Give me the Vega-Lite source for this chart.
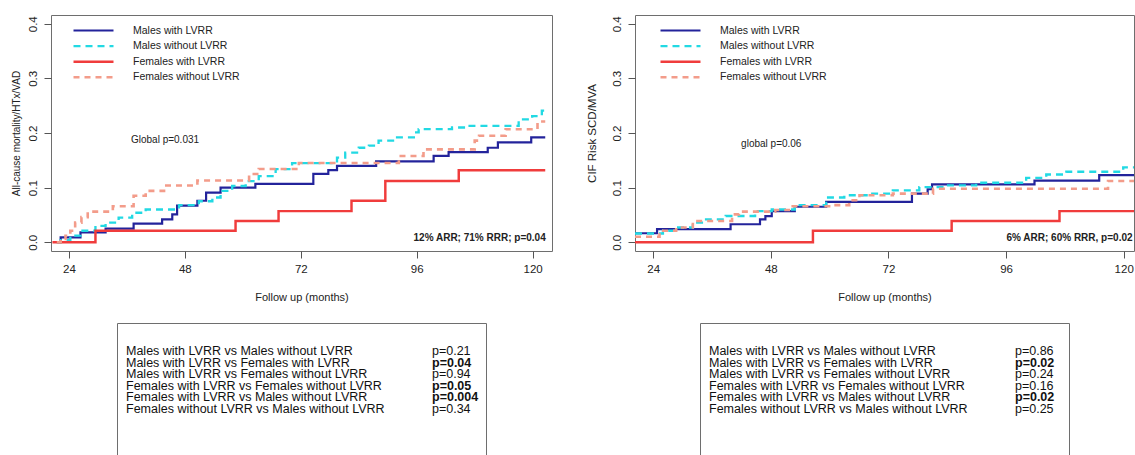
{
  "$schema": "https://vega.github.io/schema/vega-lite/v6.json",
  "padding": {"left": 10, "top": 14, "right": 0, "bottom": 0},
  "background": "white",
  "config": {
    "font": "Liberation Sans",
    "view": {"stroke": "#6e6e6e", "strokeWidth": 1},
    "axis": {"grid": false, "domain": false, "tickColor": "#555", "tickSize": 7, "labelColor": "#222", "titleColor": "#222", "labelFont": "Liberation Sans", "titleFont": "Liberation Sans", "titleFontWeight": "normal"},
    "legend": {"labelFont": "Liberation Sans", "labelFontSize": 10.5, "labelColor": "#222"}
  },
  "datasets": {
    "curvesA": [
      {"group": "Males with LVRR", "month": 21.5, "cif": 0.0},
      {"group": "Males with LVRR", "month": 22.3, "cif": 0.009},
      {"group": "Males with LVRR", "month": 26.4, "cif": 0.018},
      {"group": "Males with LVRR", "month": 31.6, "cif": 0.025},
      {"group": "Males with LVRR", "month": 37.4, "cif": 0.034},
      {"group": "Males with LVRR", "month": 43.3, "cif": 0.042},
      {"group": "Males with LVRR", "month": 45.4, "cif": 0.051},
      {"group": "Males with LVRR", "month": 46.4, "cif": 0.067},
      {"group": "Males with LVRR", "month": 50.6, "cif": 0.076},
      {"group": "Males with LVRR", "month": 52.4, "cif": 0.091},
      {"group": "Males with LVRR", "month": 55.4, "cif": 0.1},
      {"group": "Males with LVRR", "month": 62.6, "cif": 0.107},
      {"group": "Males with LVRR", "month": 74.6, "cif": 0.125},
      {"group": "Males with LVRR", "month": 77.7, "cif": 0.132},
      {"group": "Males with LVRR", "month": 79.5, "cif": 0.14},
      {"group": "Males with LVRR", "month": 87.6, "cif": 0.148},
      {"group": "Males with LVRR", "month": 99.5, "cif": 0.158},
      {"group": "Males with LVRR", "month": 102.6, "cif": 0.165},
      {"group": "Males with LVRR", "month": 110.7, "cif": 0.173},
      {"group": "Males with LVRR", "month": 112.8, "cif": 0.183},
      {"group": "Males with LVRR", "month": 119.7, "cif": 0.192},
      {"group": "Males with LVRR", "month": 122.6, "cif": 0.192},

      {"group": "Males without LVRR", "month": 21.5, "cif": 0.0},
      {"group": "Males without LVRR", "month": 22.3, "cif": 0.004},
      {"group": "Males without LVRR", "month": 24.3, "cif": 0.012},
      {"group": "Males without LVRR", "month": 26.4, "cif": 0.021},
      {"group": "Males without LVRR", "month": 29.5, "cif": 0.03},
      {"group": "Males without LVRR", "month": 31.6, "cif": 0.036},
      {"group": "Males without LVRR", "month": 34.3, "cif": 0.045},
      {"group": "Males without LVRR", "month": 37.1, "cif": 0.054},
      {"group": "Males without LVRR", "month": 39.9, "cif": 0.06},
      {"group": "Males without LVRR", "month": 46.8, "cif": 0.068},
      {"group": "Males without LVRR", "month": 50.9, "cif": 0.075},
      {"group": "Males without LVRR", "month": 53.7, "cif": 0.082},
      {"group": "Males without LVRR", "month": 55.4, "cif": 0.094},
      {"group": "Males without LVRR", "month": 57.8, "cif": 0.103},
      {"group": "Males without LVRR", "month": 60.6, "cif": 0.112},
      {"group": "Males without LVRR", "month": 63.3, "cif": 0.121},
      {"group": "Males without LVRR", "month": 66.8, "cif": 0.134},
      {"group": "Males without LVRR", "month": 70.2, "cif": 0.145},
      {"group": "Males without LVRR", "month": 79.5, "cif": 0.155},
      {"group": "Males without LVRR", "month": 81.2, "cif": 0.164},
      {"group": "Males without LVRR", "month": 84.0, "cif": 0.173},
      {"group": "Males without LVRR", "month": 86.1, "cif": 0.177},
      {"group": "Males without LVRR", "month": 88.1, "cif": 0.186},
      {"group": "Males without LVRR", "month": 91.6, "cif": 0.192},
      {"group": "Males without LVRR", "month": 95.4, "cif": 0.201},
      {"group": "Males without LVRR", "month": 96.4, "cif": 0.207},
      {"group": "Males without LVRR", "month": 103.3, "cif": 0.21},
      {"group": "Males without LVRR", "month": 106.1, "cif": 0.213},
      {"group": "Males without LVRR", "month": 117.1, "cif": 0.225},
      {"group": "Males without LVRR", "month": 119.9, "cif": 0.231},
      {"group": "Males without LVRR", "month": 121.9, "cif": 0.241},
      {"group": "Males without LVRR", "month": 122.6, "cif": 0.241},

      {"group": "Females with LVRR", "month": 20.6, "cif": 0.0},
      {"group": "Females with LVRR", "month": 29.5, "cif": 0.021},
      {"group": "Females with LVRR", "month": 58.5, "cif": 0.039},
      {"group": "Females with LVRR", "month": 67.4, "cif": 0.057},
      {"group": "Females with LVRR", "month": 82.5, "cif": 0.076},
      {"group": "Females with LVRR", "month": 89.5, "cif": 0.112},
      {"group": "Females with LVRR", "month": 104.7, "cif": 0.132},
      {"group": "Females with LVRR", "month": 122.6, "cif": 0.132},

      {"group": "Females without LVRR", "month": 21.5, "cif": 0.0},
      {"group": "Females without LVRR", "month": 22.3, "cif": 0.006},
      {"group": "Females without LVRR", "month": 23.3, "cif": 0.012},
      {"group": "Females without LVRR", "month": 24.3, "cif": 0.021},
      {"group": "Females without LVRR", "month": 25.3, "cif": 0.036},
      {"group": "Females without LVRR", "month": 26.6, "cif": 0.046},
      {"group": "Females without LVRR", "month": 27.9, "cif": 0.056},
      {"group": "Females without LVRR", "month": 33.1, "cif": 0.066},
      {"group": "Females without LVRR", "month": 37.4, "cif": 0.085},
      {"group": "Females without LVRR", "month": 39.9, "cif": 0.094},
      {"group": "Females without LVRR", "month": 43.7, "cif": 0.104},
      {"group": "Females without LVRR", "month": 50.6, "cif": 0.113},
      {"group": "Females without LVRR", "month": 61.3, "cif": 0.125},
      {"group": "Females without LVRR", "month": 63.3, "cif": 0.134},
      {"group": "Females without LVRR", "month": 71.6, "cif": 0.145},
      {"group": "Females without LVRR", "month": 92.3, "cif": 0.158},
      {"group": "Females without LVRR", "month": 97.4, "cif": 0.17},
      {"group": "Females without LVRR", "month": 108.0, "cif": 0.186},
      {"group": "Females without LVRR", "month": 108.9, "cif": 0.195},
      {"group": "Females without LVRR", "month": 114.4, "cif": 0.207},
      {"group": "Females without LVRR", "month": 121.0, "cif": 0.221},
      {"group": "Females without LVRR", "month": 122.6, "cif": 0.221}
    ],
    "curvesB": [
      {"group": "Males with LVRR", "month": 20.3, "cif": 0.0165},
      {"group": "Males with LVRR", "month": 24.8, "cif": 0.024},
      {"group": "Males with LVRR", "month": 39.8, "cif": 0.033},
      {"group": "Males with LVRR", "month": 45.8, "cif": 0.042},
      {"group": "Males with LVRR", "month": 46.9, "cif": 0.048},
      {"group": "Males with LVRR", "month": 48.2, "cif": 0.057},
      {"group": "Males with LVRR", "month": 52.9, "cif": 0.065},
      {"group": "Males with LVRR", "month": 59.3, "cif": 0.074},
      {"group": "Males with LVRR", "month": 76.8, "cif": 0.089},
      {"group": "Males with LVRR", "month": 80.0, "cif": 0.097},
      {"group": "Males with LVRR", "month": 80.9, "cif": 0.106},
      {"group": "Males with LVRR", "month": 101.8, "cif": 0.113},
      {"group": "Males with LVRR", "month": 115.0, "cif": 0.123},
      {"group": "Males with LVRR", "month": 122.1, "cif": 0.123},

      {"group": "Males without LVRR", "month": 20.3, "cif": 0.016},
      {"group": "Males without LVRR", "month": 26.0, "cif": 0.021},
      {"group": "Males without LVRR", "month": 28.7, "cif": 0.027},
      {"group": "Males without LVRR", "month": 32.1, "cif": 0.036},
      {"group": "Males without LVRR", "month": 34.8, "cif": 0.042},
      {"group": "Males without LVRR", "month": 38.8, "cif": 0.048},
      {"group": "Males without LVRR", "month": 44.8, "cif": 0.057},
      {"group": "Males without LVRR", "month": 48.2, "cif": 0.06},
      {"group": "Males without LVRR", "month": 52.9, "cif": 0.068},
      {"group": "Males without LVRR", "month": 59.3, "cif": 0.082},
      {"group": "Males without LVRR", "month": 63.0, "cif": 0.086},
      {"group": "Males without LVRR", "month": 68.1, "cif": 0.089},
      {"group": "Males without LVRR", "month": 72.9, "cif": 0.095},
      {"group": "Males without LVRR", "month": 78.3, "cif": 0.101},
      {"group": "Males without LVRR", "month": 83.8, "cif": 0.104},
      {"group": "Males without LVRR", "month": 89.9, "cif": 0.109},
      {"group": "Males without LVRR", "month": 100.1, "cif": 0.118},
      {"group": "Males without LVRR", "month": 104.2, "cif": 0.124},
      {"group": "Males without LVRR", "month": 108.3, "cif": 0.129},
      {"group": "Males without LVRR", "month": 119.9, "cif": 0.137},
      {"group": "Males without LVRR", "month": 122.1, "cif": 0.137},

      {"group": "Females with LVRR", "month": 20.3, "cif": 0.0},
      {"group": "Females with LVRR", "month": 56.6, "cif": 0.021},
      {"group": "Females with LVRR", "month": 84.9, "cif": 0.039},
      {"group": "Females with LVRR", "month": 106.9, "cif": 0.057},
      {"group": "Females with LVRR", "month": 122.1, "cif": 0.057},

      {"group": "Females without LVRR", "month": 20.3, "cif": 0.01},
      {"group": "Females without LVRR", "month": 25.3, "cif": 0.021},
      {"group": "Females without LVRR", "month": 28.7, "cif": 0.027},
      {"group": "Females without LVRR", "month": 32.1, "cif": 0.039},
      {"group": "Females without LVRR", "month": 40.1, "cif": 0.051},
      {"group": "Females without LVRR", "month": 41.5, "cif": 0.056},
      {"group": "Females without LVRR", "month": 48.9, "cif": 0.059},
      {"group": "Females without LVRR", "month": 52.2, "cif": 0.066},
      {"group": "Females without LVRR", "month": 60.3, "cif": 0.068},
      {"group": "Females without LVRR", "month": 64.0, "cif": 0.077},
      {"group": "Females without LVRR", "month": 66.1, "cif": 0.086},
      {"group": "Females without LVRR", "month": 72.9, "cif": 0.089},
      {"group": "Females without LVRR", "month": 81.1, "cif": 0.098},
      {"group": "Females without LVRR", "month": 116.8, "cif": 0.112},
      {"group": "Females without LVRR", "month": 122.1, "cif": 0.112}
    ],
    "tableA": [
      {"row": 1, "comparison": "Males with LVRR vs Males without LVRR", "p": "p=0.21", "bold": false},
      {"row": 2, "comparison": "Males with LVRR vs Females with LVRR", "p": "p=0.04", "bold": true},
      {"row": 3, "comparison": "Males with LVRR vs Females without LVRR", "p": "p=0.94", "bold": false},
      {"row": 4, "comparison": "Females with LVRR vs Females without LVRR", "p": "p=0.05", "bold": true},
      {"row": 5, "comparison": "Females with LVRR vs Males without LVRR", "p": "p=0.004", "bold": true},
      {"row": 6, "comparison": "Females without LVRR vs Males without LVRR", "p": "p=0.34", "bold": false}
    ],
    "tableB": [
      {"row": 1, "comparison": "Males with LVRR vs Males without LVRR", "p": "p=0.86", "bold": false},
      {"row": 2, "comparison": "Males with LVRR vs Females with LVRR", "p": "p=0.02", "bold": true},
      {"row": 3, "comparison": "Males with LVRR vs Females without LVRR", "p": "p=0.24", "bold": false},
      {"row": 4, "comparison": "Females with LVRR vs Females without LVRR", "p": "p=0.16", "bold": false},
      {"row": 5, "comparison": "Females with LVRR vs Males without LVRR", "p": "p=0.02", "bold": true},
      {"row": 6, "comparison": "Females without LVRR vs Males without LVRR", "p": "p=0.25", "bold": false}
    ]
  },
  "spacing": 32,
  "resolve": {
    "scale": {"color": "independent", "strokeDash": "independent", "strokeWidth": "independent", "x": "independent", "y": "independent"},
    "legend": {"color": "independent", "strokeDash": "independent", "strokeWidth": "independent"}
  },
  "hconcat": [
    {
      "bounds": "flush",
      "center": true,
      "spacing": 72,
      "vconcat": [
        {
          "width": 501,
          "height": 236,
          "layer": [
            {
              "data": {"name": "curvesA"},
              "mark": {"type": "line", "interpolate": "step-after"},
              "encoding": {
                "x": {"field": "month", "type": "quantitative", "scale": {"domain": [20.3, 124], "nice": false, "zero": false},
                      "axis": {"values": [24, 48, 72, 96, 120], "title": "Follow up (months)", "labelFontSize": 11.5, "labelPadding": 5, "titleFontSize": 11, "titlePadding": 17}},
                "y": {"field": "cif", "type": "quantitative", "scale": {"domain": [-0.016, 0.416], "nice": false, "zero": false},
                      "axis": {"values": [0, 0.1, 0.2, 0.3, 0.4], "format": ".1f", "labelAngle": -90, "labelFontSize": 11.5, "labelPadding": 6, "title": "All-cause mortality/HTx/VAD", "titleFontSize": 10, "titlePadding": 6}},
                "color": {"field": "group", "type": "nominal", "title": null,
                          "scale": {"domain": ["Males with LVRR", "Males without LVRR", "Females with LVRR", "Females without LVRR"], "range": ["#23239b", "#22d9e3", "#f03c3c", "#f39c8a"]},
                          "legend": {"orient": "none", "legendX": 36, "legendY": 9, "padding": 0, "symbolType": "M-4,0H4", "symbolSize": 100, "labelOffset": 33, "rowPadding": 3.6}},
                "strokeDash": {"field": "group", "type": "nominal", "title": null,
                               "scale": {"domain": ["Males with LVRR", "Males without LVRR", "Females with LVRR", "Females without LVRR"], "range": [[1, 0], [7, 5], [1, 0], [6, 5]]}},
                "strokeWidth": {"field": "group", "type": "nominal", "title": null, "legend": null,
                                "scale": {"domain": ["Males with LVRR", "Males without LVRR", "Females with LVRR", "Females without LVRR"], "range": [2.2, 2.6, 2.2, 1.8]}}
              }
            },
            {
              "data": {"values": [{"note": "Global p=0.031"}]},
              "mark": {"type": "text", "fontSize": 10, "color": "#222", "align": "center", "baseline": "middle"},
              "encoding": {"x": {"datum": 43.9, "type": "quantitative"}, "y": {"datum": 0.187, "type": "quantitative"}, "text": {"field": "note"}}
            },
            {
              "data": {"values": [{"note": "12% ARR; 71% RRR; p=0.04"}]},
              "mark": {"type": "text", "fontSize": 10, "fontWeight": "bold", "color": "#222", "align": "right", "baseline": "middle"},
              "encoding": {"x": {"datum": 122.7, "type": "quantitative"}, "y": {"datum": 0.008, "type": "quantitative"}, "text": {"field": "note"}}
            }
          ]
        },
        {
          "width": 369,
          "height": 132,
          "data": {"name": "tableA"},
          "layer": [
            {
              "mark": {"type": "text", "align": "left", "baseline": "middle", "fontSize": 12.5, "color": "#111"},
              "encoding": {
                "x": {"datum": 0, "type": "quantitative", "scale": {"domain": [-0.0294, 1.1765], "nice": false, "zero": false}, "axis": null},
                "y": {"field": "row", "type": "quantitative", "scale": {"domain": [-1.414, 9.966], "reverse": true, "nice": false, "zero": false}, "axis": null},
                "text": {"field": "comparison"}
              }
            },
            {
              "transform": [{"filter": "!datum.bold"}],
              "mark": {"type": "text", "align": "left", "baseline": "middle", "fontSize": 12.5, "color": "#111"},
              "encoding": {
                "x": {"datum": 1, "type": "quantitative"},
                "y": {"field": "row", "type": "quantitative"},
                "text": {"field": "p"}
              }
            },
            {
              "transform": [{"filter": "datum.bold"}],
              "mark": {"type": "text", "align": "left", "baseline": "middle", "fontSize": 12.5, "fontWeight": "bold", "color": "#111"},
              "encoding": {
                "x": {"datum": 1, "type": "quantitative"},
                "y": {"field": "row", "type": "quantitative"},
                "text": {"field": "p"}
              }
            }
          ]
        }
      ]
    },
    {
      "bounds": "flush",
      "center": true,
      "spacing": 72,
      "vconcat": [
        {
          "width": 499,
          "height": 236,
          "layer": [
            {
              "data": {"name": "curvesB"},
              "mark": {"type": "line", "interpolate": "step-after"},
              "encoding": {
                "x": {"field": "month", "type": "quantitative", "scale": {"domain": [20.3, 122.1], "nice": false, "zero": false},
                      "axis": {"values": [24, 48, 72, 96, 120], "title": "Follow up (months)", "labelFontSize": 11.5, "labelPadding": 5, "titleFontSize": 11, "titlePadding": 17}},
                "y": {"field": "cif", "type": "quantitative", "scale": {"domain": [-0.016, 0.416], "nice": false, "zero": false},
                      "axis": {"values": [0, 0.1, 0.2, 0.3, 0.4], "format": ".1f", "labelAngle": -90, "labelFontSize": 11.5, "labelPadding": 6, "title": "CIF Risk SCD/MVA", "titleFontSize": 11.5, "titlePadding": 14}},
                "color": {"field": "group", "type": "nominal", "title": null,
                          "scale": {"domain": ["Males with LVRR", "Males without LVRR", "Females with LVRR", "Females without LVRR"], "range": ["#23239b", "#22d9e3", "#f03c3c", "#f39c8a"]},
                          "legend": {"orient": "none", "legendX": 39, "legendY": 9, "padding": 0, "symbolType": "M-4,0H4", "symbolSize": 100, "labelOffset": 33, "rowPadding": 3.6}},
                "strokeDash": {"field": "group", "type": "nominal", "title": null,
                               "scale": {"domain": ["Males with LVRR", "Males without LVRR", "Females with LVRR", "Females without LVRR"], "range": [[1, 0], [7, 5], [1, 0], [6, 5]]}},
                "strokeWidth": {"field": "group", "type": "nominal", "title": null, "legend": null,
                                "scale": {"domain": ["Males with LVRR", "Males without LVRR", "Females with LVRR", "Females without LVRR"], "range": [2.2, 2.6, 2.2, 1.8]}}
              }
            },
            {
              "data": {"values": [{"note": "global p=0.06"}]},
              "mark": {"type": "text", "fontSize": 10, "color": "#222", "align": "center", "baseline": "middle"},
              "encoding": {"x": {"datum": 48.1, "type": "quantitative"}, "y": {"datum": 0.18, "type": "quantitative"}, "text": {"field": "note"}}
            },
            {
              "data": {"values": [{"note": "6% ARR; 60% RRR, p=0.02"}]},
              "mark": {"type": "text", "fontSize": 10, "fontWeight": "bold", "color": "#222", "align": "right", "baseline": "middle"},
              "encoding": {"x": {"datum": 121.8, "type": "quantitative"}, "y": {"datum": 0.008, "type": "quantitative"}, "text": {"field": "note"}}
            }
          ]
        },
        {
          "width": 369,
          "height": 132,
          "data": {"name": "tableB"},
          "layer": [
            {
              "mark": {"type": "text", "align": "left", "baseline": "middle", "fontSize": 12.5, "color": "#111"},
              "encoding": {
                "x": {"datum": 0, "type": "quantitative", "scale": {"domain": [-0.0294, 1.1765], "nice": false, "zero": false}, "axis": null},
                "y": {"field": "row", "type": "quantitative", "scale": {"domain": [-1.414, 9.966], "reverse": true, "nice": false, "zero": false}, "axis": null},
                "text": {"field": "comparison"}
              }
            },
            {
              "transform": [{"filter": "!datum.bold"}],
              "mark": {"type": "text", "align": "left", "baseline": "middle", "fontSize": 12.5, "color": "#111"},
              "encoding": {
                "x": {"datum": 1, "type": "quantitative"},
                "y": {"field": "row", "type": "quantitative"},
                "text": {"field": "p"}
              }
            },
            {
              "transform": [{"filter": "datum.bold"}],
              "mark": {"type": "text", "align": "left", "baseline": "middle", "fontSize": 12.5, "fontWeight": "bold", "color": "#111"},
              "encoding": {
                "x": {"datum": 1, "type": "quantitative"},
                "y": {"field": "row", "type": "quantitative"},
                "text": {"field": "p"}
              }
            }
          ]
        }
      ]
    }
  ]
}
